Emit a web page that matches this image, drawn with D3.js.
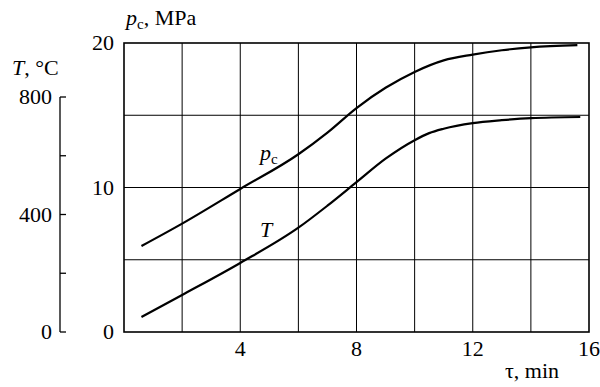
<!DOCTYPE html>
<html><head><meta charset="utf-8">
<script src="https://cdn.jsdelivr.net/npm/d3@7"></script>
</head>
<body style="margin:0">
<svg id="chart" width="600" height="387" style="font-family:'Liberation Serif',serif"></svg>
<script>
// Data
const tau = [0.6, 2, 4, 6, 7, 8, 9, 10, 11, 12, 13, 14, 15.6];
const pcValues = [5.95, 7.5, 9.9, 12.3, 13.8, 15.5, 16.9, 18.0, 18.8, 19.2, 19.5, 19.7, 19.85];
const tauT = [0.6, 2, 4, 6, 7, 8, 9, 10, 10.5, 11, 12, 13, 14, 15.7];
const TValues = [51, 126, 235, 355, 430, 510, 590, 653, 677, 692, 711, 721, 728, 732];
const xTicks = [4, 8, 12, 16];
const xGrid = [2, 4, 6, 8, 10, 12, 14];
const pcTicks = [0, 10, 20];
const pcGrid = [5, 10, 15];
const TTicks = [0, 200, 400, 600, 800];
const TTickLabels = [0, 400, 800];

const STYLE = "font-family:'Liberation Serif',serif;font-size:22px";
const svg = d3.select("#chart");
const x = d3.scaleLinear().domain([0, 16]).range([124, 589]);
const yP = d3.scaleLinear().domain([0, 20]).range([332, 43]);
const yT = d3.scaleLinear().domain([0, 800]).range([332, 97]);

function txt(sel) { return sel.attr("style", STYLE).attr("fill", "#000"); }

// grid
svg.append("g").selectAll("line").data(xGrid).join("line")
  .attr("x1", d => x(d)).attr("x2", d => x(d)).attr("y1", yP(0)).attr("y2", yP(20))
  .attr("stroke", "#000").attr("stroke-width", 1);
svg.append("g").selectAll("line").data(pcGrid).join("line")
  .attr("x1", x(0)).attr("x2", x(16)).attr("y1", d => yP(d)).attr("y2", d => yP(d))
  .attr("stroke", "#000").attr("stroke-width", 1);

// frame
svg.append("rect").attr("x", x(0)).attr("y", yP(20)).attr("width", x(16) - x(0)).attr("height", yP(0) - yP(20))
  .attr("fill", "none").attr("stroke", "#000").attr("stroke-width", 1.6);

// x tick labels
txt(svg.append("g").selectAll("text").data(xTicks).join("text"))
  .attr("x", d => x(d)).attr("y", 356).attr("text-anchor", "middle")
  .text(d => d);
txt(svg.append("text")).attr("x", 505).attr("y", 378).text("τ, min");

// pc labels
txt(svg.append("g").selectAll("text").data(pcTicks).join("text"))
  .attr("x", 114).attr("y", d => yP(d)).attr("dy", "0.34em").attr("text-anchor", "end")
  .text(d => d);
const pl = txt(svg.append("text")).attr("x", 126).attr("y", 25);
pl.append("tspan").attr("style", "font-style:italic").text("p");
pl.append("tspan").attr("style", "font-size:15px").attr("dy", 4).text("c");
pl.append("tspan").attr("dy", -4).text(", MPa");

// T axis
const tAxis = svg.append("g");
tAxis.append("line").attr("x1", 60).attr("x2", 60).attr("y1", yT(0)).attr("y2", yT(800))
  .attr("stroke", "#000").attr("stroke-width", 1.3);
tAxis.selectAll("line.tk").data(TTicks).join("line").attr("class", "tk")
  .attr("x1", 60).attr("x2", 66).attr("y1", d => yT(d)).attr("y2", d => yT(d))
  .attr("stroke", "#000").attr("stroke-width", 1.3);
txt(tAxis.selectAll("text").data(TTickLabels).join("text"))
  .attr("x", 52).attr("y", d => yT(d)).attr("dy", "0.34em").attr("text-anchor", "end")
  .text(d => d);
const tl = txt(svg.append("text")).attr("x", 12).attr("y", 75);
tl.append("tspan").attr("style", "font-style:italic").text("T");
tl.append("tspan").text(", °C");

// curves
const linePc = d3.line().x((d, i) => x(tau[i])).y(d => yP(d)).curve(d3.curveMonotoneX);
const lineT = d3.line().x((d, i) => x(tauT[i])).y(d => yT(d)).curve(d3.curveMonotoneX);
svg.append("path").attr("d", linePc(pcValues)).attr("fill", "none").attr("stroke", "#000").attr("stroke-width", 2.2);
svg.append("path").attr("d", lineT(TValues)).attr("fill", "none").attr("stroke", "#000").attr("stroke-width", 2.2);

// curve labels
const cl = txt(svg.append("text")).attr("x", 260).attr("y", 160);
cl.append("tspan").attr("style", "font-style:italic").text("p");
cl.append("tspan").attr("style", "font-size:15px").attr("dy", 4).text("c");
txt(svg.append("text")).attr("x", 260).attr("y", 237).attr("style", STYLE + ";font-style:italic").text("T");
</script>
</body></html>
